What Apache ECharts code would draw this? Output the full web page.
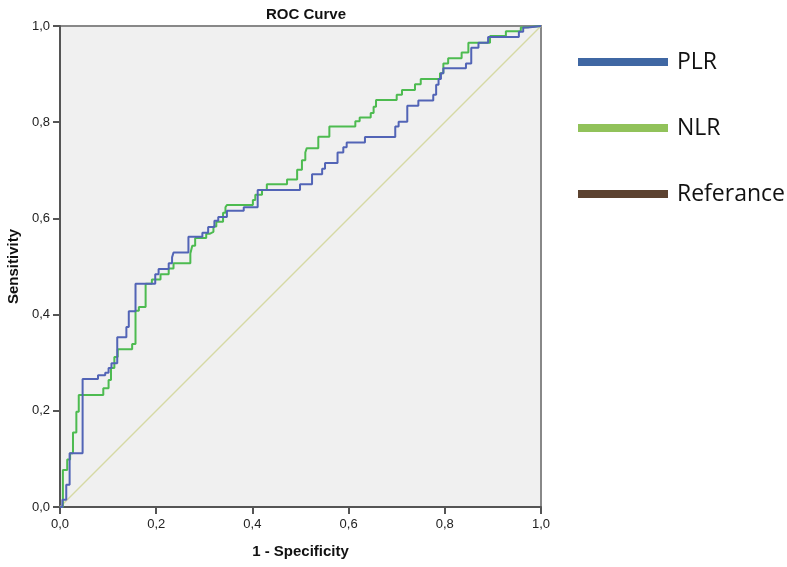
<!DOCTYPE html>
<html>
<head>
<meta charset="utf-8">
<script src="https://cdn.jsdelivr.net/npm/echarts@6/dist/echarts.min.js"></script>
<style>
html,body{margin:0;padding:0;background:#fff;}
#c{width:787px;height:567px;}
</style>
</head>
<body>
<div id="c"></div>
<script>
// Data (1 - Specificity, Sensitivity)
var plrFpr = [0, 0.005, 0.013, 0.020, 0.047, 0.079, 0.094, 0.101, 0.107, 0.119, 0.138, 0.143, 0.157, 0.198, 0.205, 0.226, 0.233, 0.236, 0.267, 0.296, 0.308, 0.321, 0.329, 0.347, 0.382, 0.411, 0.499, 0.524, 0.545, 0.551, 0.577, 0.589, 0.596, 0.634, 0.697, 0.704, 0.722, 0.745, 0.776, 0.782, 0.787, 0.792, 0.797, 0.844, 0.855, 0.870, 0.890, 0.954, 0.963, 0.973, 1];
var plrTpr = [0, 0.015, 0.046, 0.112, 0.266, 0.274, 0.279, 0.289, 0.299, 0.353, 0.374, 0.407, 0.464, 0.484, 0.495, 0.507, 0.519, 0.529, 0.562, 0.570, 0.582, 0.595, 0.603, 0.616, 0.623, 0.659, 0.671, 0.692, 0.703, 0.715, 0.737, 0.748, 0.758, 0.769, 0.791, 0.801, 0.834, 0.845, 0.857, 0.878, 0.890, 0.902, 0.912, 0.922, 0.955, 0.965, 0.977, 0.988, 0.997, 1, 1];
var nlrFpr = [0, 0.006, 0.015, 0.021, 0.027, 0.034, 0.039, 0.090, 0.101, 0.106, 0.113, 0.120, 0.150, 0.157, 0.164, 0.178, 0.191, 0.209, 0.226, 0.236, 0.271, 0.275, 0.281, 0.304, 0.311, 0.319, 0.325, 0.339, 0.344, 0.347, 0.401, 0.406, 0.420, 0.430, 0.472, 0.493, 0.503, 0.510, 0.513, 0.537, 0.560, 0.614, 0.623, 0.646, 0.652, 0.657, 0.700, 0.711, 0.738, 0.750, 0.790, 0.797, 0.807, 0.835, 0.849, 0.894, 0.927, 0.958, 0.965, 1];
var nlrTpr = [0, 0.077, 0.099, 0.112, 0.155, 0.198, 0.233, 0.247, 0.264, 0.289, 0.312, 0.328, 0.339, 0.408, 0.416, 0.464, 0.473, 0.484, 0.496, 0.507, 0.527, 0.543, 0.559, 0.568, 0.572, 0.583, 0.593, 0.612, 0.623, 0.628, 0.638, 0.649, 0.659, 0.671, 0.681, 0.701, 0.721, 0.737, 0.746, 0.770, 0.791, 0.802, 0.810, 0.819, 0.832, 0.846, 0.857, 0.867, 0.879, 0.890, 0.902, 0.922, 0.933, 0.945, 0.965, 0.979, 0.989, 0.997, 1, 1];
var refFpr = [0, 1];
var refTpr = [0, 1];
var seriesNames = ['PLR', 'NLR', 'Referance'];
var tickValues = [0, 0.2, 0.4, 0.6, 0.8, 1.0];

function pairs(xs, ys) { return xs.map(function (x, i) { return [x, ys[i]]; }); }
function fmt(v) { return v.toFixed(1).replace('.', ','); }

var chart = echarts.init(document.getElementById('c'), null, {renderer: 'canvas'});
var axisCommon = {
  type: 'value', min: 0, max: 1, interval: 0.2,
  axisLine: {show: true, lineStyle: {color: '#555', width: 2}},
  axisTick: {show: true, length: 7, lineStyle: {color: '#555', width: 2}},
  splitLine: {show: false},
  axisLabel: {formatter: fmt, color: '#222', fontSize: 13, fontFamily: 'Liberation Sans, Arial'},
  nameLocation: 'middle',
  nameTextStyle: {fontWeight: 'bold', fontSize: 15, color: '#111', fontFamily: 'Liberation Sans, Arial'}
};
chart.setOption({
  backgroundColor: '#fff',
  animation: false,
  title: {
    text: 'ROC Curve', left: 301, top: 2, textAlign: 'center',
    textStyle: {fontWeight: 'bold', fontSize: 15, color: '#111', fontFamily: 'Liberation Sans, Arial'}
  },
  legend: {
    orient: 'vertical', left: 573, top: 45, itemWidth: 90, itemHeight: 8, itemGap: 42,
    icon: 'rect',
    textStyle: {fontSize: 23, color: '#111', fontFamily: 'Open Sans, Liberation Sans', lineHeight: 24, padding: [0, 0, 0, 4]},
    data: [
      {name: seriesNames[0], itemStyle: {color: '#3f67a3', borderWidth: 0}},
      {name: seriesNames[1], itemStyle: {color: '#91c25a', borderWidth: 0}},
      {name: seriesNames[2], itemStyle: {color: '#5c4230', borderWidth: 0}}
    ]
  },
  grid: {
    left: 60, top: 26, width: 481, height: 481, show: true,
    outerBoundsMode: 'none', containLabel: false,
    backgroundColor: '#f0f0f0', borderColor: '#888', borderWidth: 2
  },
  xAxis: Object.assign({}, axisCommon, {name: '1 - Specificity', nameGap: 37,
    axisLabel: Object.assign({}, axisCommon.axisLabel, {margin: 11})}),
  yAxis: Object.assign({}, axisCommon, {name: 'Sensitivity', nameGap: 39,
    axisLabel: Object.assign({}, axisCommon.axisLabel, {margin: 10})}),
  series: [
    {name: seriesNames[2], type: 'line', data: pairs(refFpr, refTpr), showSymbol: false, silent: true,
     lineStyle: {color: '#d6d9a4', width: 1.5}, itemStyle: {color: '#d6d9a4'}, z: 1},
    {name: seriesNames[0], type: 'line', step: 'end', data: pairs(plrFpr, plrTpr), showSymbol: false,
     lineStyle: {color: '#5264b6', width: 2}, itemStyle: {color: '#5264b6'}, z: 3},
    {name: seriesNames[1], type: 'line', step: 'end', data: pairs(nlrFpr, nlrTpr), showSymbol: false,
     lineStyle: {color: '#4dbb50', width: 2}, itemStyle: {color: '#4dbb50'}, z: 2}
  ]
});
</script>
</body>
</html>
